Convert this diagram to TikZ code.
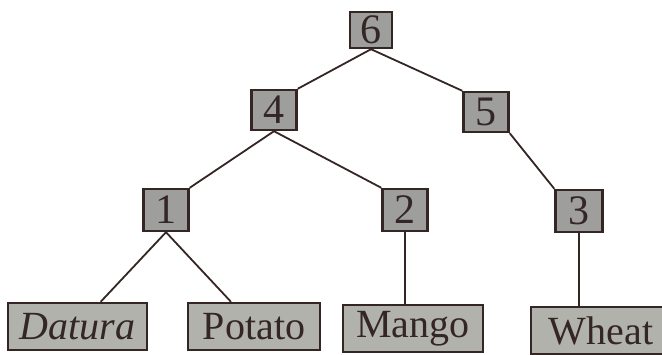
\documentclass[tikz,border=0pt]{standalone}
\usepackage{fontspec}
\setmainfont{Liberation Serif}
\newlength{\du}
\setlength{\du}{0.5pt}
\definecolor{dialinecolor}{rgb}{0.20, 0.15, 0.14}
\definecolor{numfillcolor}{rgb}{0.62, 0.62, 0.61}
\definecolor{leaffillcolor}{rgb}{0.70, 0.70, 0.68}
\tikzset{
  numbox/.style={draw=dialinecolor, fill=numfillcolor, line width=1.2pt, inner sep=0pt,
    minimum width=45\du, minimum height=42\du, text=dialinecolor,
    font=\fontsize{21}{24}\selectfont},
  leafbox/.style={draw=dialinecolor, fill=leaffillcolor, line width=1.2pt, inner sep=0pt,
    minimum width=139\du, minimum height=47\du, text=dialinecolor,
    font=\fontsize{20}{23}\selectfont},
  link/.style={draw=dialinecolor, line width=0.9pt}
}

\begin{document}
\begin{tikzpicture}[x=1\du, y=-1\du]
\clip (0,0) rectangle (662,354);
% numbered nodes
\node[numbox, minimum width=42\du, minimum height=36\du] (n6) at (371,30) {6};
\node[numbox, minimum height=40\du] (n4) at (274,110) {4};
\node[numbox, minimum height=40\du] (n5) at (486,112) {5};
\node[numbox] (n1) at (166,210) {1};
\node[numbox] (n2) at (405,210) {2};
\node[numbox, minimum width=47\du] (n3) at (579,211) {3};
% leaves
\node[leafbox] (datura) at (77.5,326.5) {\textit{Datura}};
\node[leafbox, minimum width=132\du] (potato) at (254,326.5) {Potato};
\node[leafbox, minimum width=140\du] (mango) at (413,328.5) {Mango};
\node[leafbox, minimum width=140\du] (wheat) at (601,330.5) {Wheat};
% links
\draw[link] (n6.south) -- (n4.north east);
\draw[link] (n6.south) -- (n5.north west);
\draw[link] (n4.south) -- (n1.north east);
\draw[link] (n4.south) -- (n2.north west);
\draw[link] (n5.south east) -- (n3.north west);
\draw[link] (n1.south) -- (datura);
\draw[link] (n1.south) -- (potato);
\draw[link] (n2.south) -- (n2.south |- mango.north);
\draw[link] (n3.south) -- (n3.south |- wheat.north);
\end{tikzpicture}
\end{document}
